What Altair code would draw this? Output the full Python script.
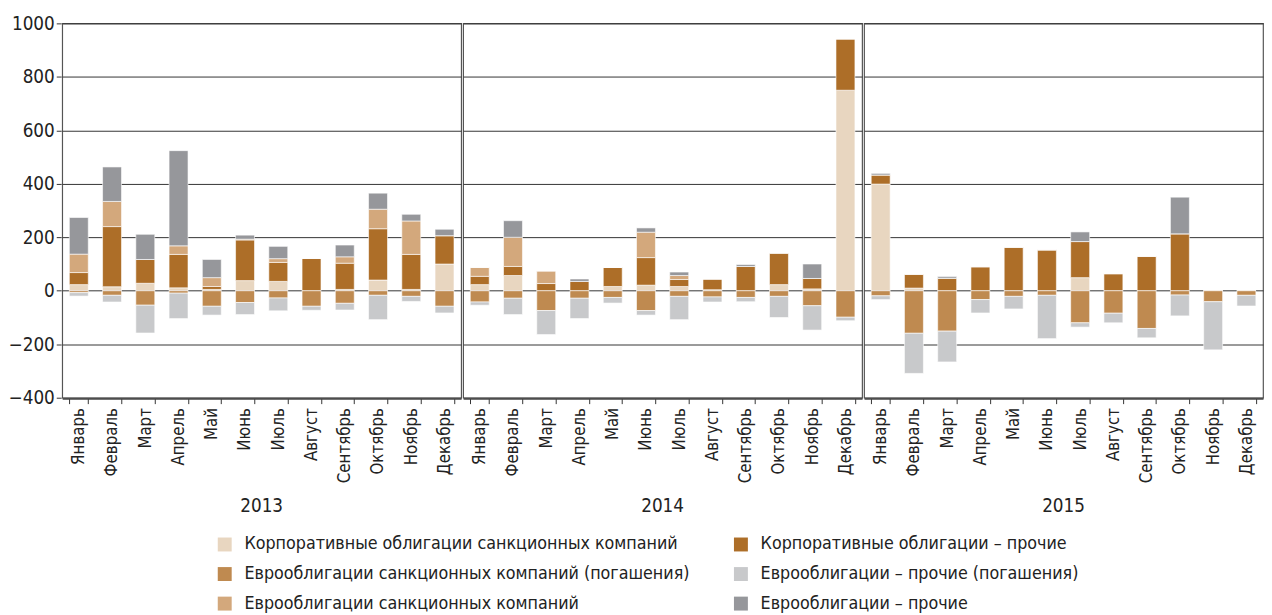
import altair as alt
import pandas as pd

months = ["Январь", "Февраль", "Март", "Апрель", "Май", "Июнь",
          "Июль", "Август", "Сентябрь", "Октябрь", "Ноябрь", "Декабрь"]
years = ["2013", "2014", "2015"]

# Корпоративные облигации санкционных компаний
corp_sanc = [23, 15, 28, 11, 5, 38, 35, 0, 5, 40, 5, 100,
             23, 57, 0, 0, 16, 21, 16, 4, 0, 23, 7, 750,
             399, 10, 0, 0, 0, 0, 49, 0, 0, 0, 0, 0]
# Корпоративные облигации – прочие
corp_other = [45, 225, 89, 125, 11, 152, 71, 121, 98, 192, 131, 106,
              31, 34, 27, 35, 71, 103, 26, 40, 91, 118, 39, 192,
              34, 52, 47, 90, 163, 153, 135, 64, 129, 213, 0, 0]
# Еврооблигации санкционных компаний
euro_sanc = [69, 94, 0, 32, 33, 3, 14, 0, 24, 73, 125, 0,
             33, 109, 47, 0, 0, 95, 15, 0, 0, 0, 0, 0,
             0, 0, 0, 0, 0, 0, 0, 0, 0, 0, 0, 0]
# Еврооблигации – прочие
euro_other = [137, 129, 94, 356, 68, 15, 46, 0, 44, 60, 25, 24,
              0, 62, 0, 9, 0, 16, 13, 0, 7, 0, 54, 0,
              6, 0, 6, 0, 0, 0, 36, 0, 0, 137, 0, 0]
# Еврооблигации санкционных компаний (погашения)
euro_sanc_red = [-7, -17, -54, -9, -58, -44, -27, -58, -47, -17, -21, -58,
                 -42, -28, -74, -28, -25, -74, -21, -23, -25, -21, -56, -99,
                 -19, -159, -151, -33, -21, -17, -120, -84, -141, -16, -41, -17]
# Еврооблигации – прочие (погашения)
euro_other_red = [-13, -25, -104, -95, -33, -45, -48, -15, -25, -91, -19, -25,
                  -12, -61, -90, -76, -21, -17, -87, -19, -16, -79, -91, -13,
                  -14, -150, -115, -50, -47, -162, -16, -36, -35, -78, -180, -40]

series_names = [
    "Корпоративные облигации санкционных компаний",
    "Корпоративные облигации – прочие",
    "Еврооблигации санкционных компаний",
    "Еврооблигации – прочие",
    "Еврооблигации санкционных компаний (погашения)",
    "Еврооблигации – прочие (погашения)",
]
series_values = [corp_sanc, corp_other, euro_sanc, euro_other, euro_sanc_red, euro_other_red]
series_colors = ["#e8d6c0", "#ad6e28", "#d3a87c", "#96979b", "#bf8a50", "#c8c9cb"]

# legend order (two columns, filled column by column)
legend_order = [series_names[0], series_names[4], series_names[2],
                series_names[1], series_names[5], series_names[3]]
legend_colors = [series_colors[series_names.index(n)] for n in legend_order]

rows = []
for si, (name, vals) in enumerate(zip(series_names, series_values)):
    for i, v in enumerate(vals):
        rows.append({"year": years[i // 12], "month": months[i % 12],
                     "series": name, "value": v, "ord": si})
df = pd.DataFrame(rows)

FONT = "Liberation Sans Narrow, DejaVu Sans Condensed, sans-serif"

base = alt.Chart(df).mark_bar(stroke="white", strokeWidth=0.6).encode(
    x=alt.X("month:N", sort=months, title=None,
            scale=alt.Scale(paddingInner=0.43, paddingOuter=0.215),
            axis=alt.Axis(labelAngle=270, tickBand="extent", labelFontSize=17,
                          labelFont=FONT, labelColor="#222", domainColor="#333",
                          tickColor="#333", tickSize=5, labelPadding=4)),
    y=alt.Y("value:Q", stack="zero", title=None,
            scale=alt.Scale(domain=[-400, 1000], nice=False),
            axis=alt.Axis(values=list(range(-400, 1001, 200)), format="d",
                          grid=True, gridColor="#333", gridWidth=1, domain=False,
                          tickColor="#333", tickSize=5, labelFontSize=19,
                          labelFont=FONT, labelColor="#222", labelPadding=2,
                          minExtent=42, maxExtent=42)),
    color=alt.Color("series:N",
                    scale=alt.Scale(domain=legend_order, range=legend_colors),
                    legend=alt.Legend(title=None, orient="none", legendX=156,
                                      legendY=520, columns=2, columnPadding=42,
                                      rowPadding=12, symbolType="square",
                                      symbolSize=200, symbolStrokeWidth=0,
                                      labelFontSize=18, labelFont=FONT,
                                      labelColor="#222", labelLimit=700,
                                      labelOffset=11)),
    order=alt.Order("ord:Q", sort="ascending"),
).properties(width=405, height=380)

chart = base.facet(
    column=alt.Column("year:N", title=None,
                      header=alt.Header(labelOrient="bottom", labelFontSize=19,
                                        labelFont=FONT, labelColor="#222",
                                        labelPadding=15)),
    spacing=0,
).properties(
    padding={"left": 0, "top": 2, "right": 0, "bottom": 0}
).configure_view(stroke="#555", strokeWidth=1.2)

chart.save("out.html", embed_options={"renderer": "svg", "actions": False})
